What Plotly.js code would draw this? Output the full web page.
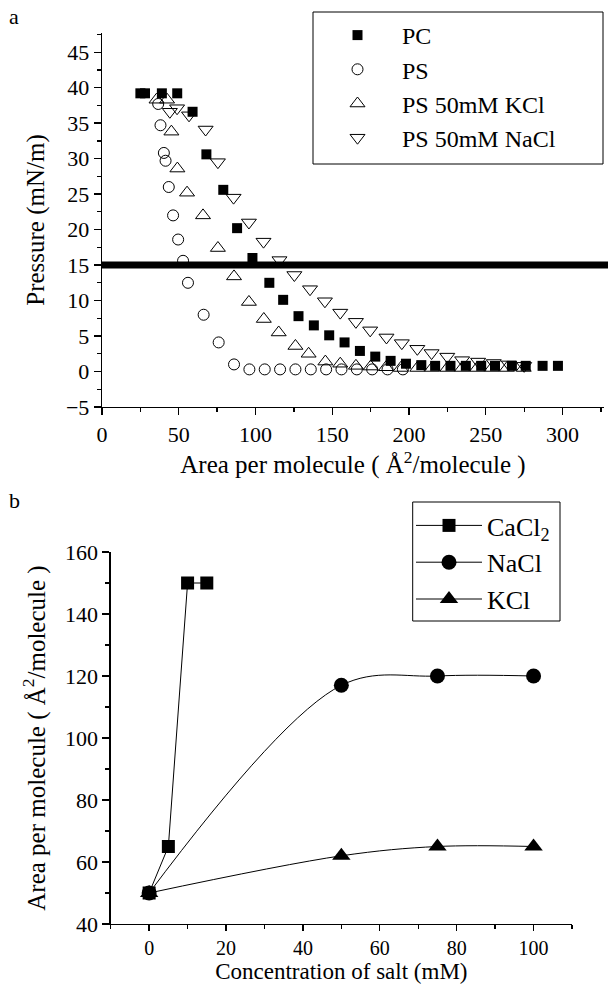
<!DOCTYPE html>
<html>
<head>
<meta charset="utf-8">
<script src="https://cdn.plot.ly/plotly-3.0.1.min.js"></script>
<style>html,body{margin:0;padding:0;background:#fff;}#chart{width:608px;height:987px;}</style>
</head>
<body>
<div id="chart"></div>
<script>
// ---- Panel a data: surface pressure isotherms ----
var pcX = [25, 28, 39, 49, 59, 68, 79, 88, 98, 109, 118, 128, 138, 148, 158, 168, 178, 188, 198, 208, 217, 227, 237, 247, 256, 267, 276, 287, 297];
var pcY = [39.2, 39.2, 39.2, 39.2, 36.6, 30.6, 25.6, 20.2, 16.0, 12.5, 10.1, 7.8, 6.5, 5.1, 4.1, 2.9, 2.1, 1.5, 1.1, 0.9, 0.8, 0.8, 0.8, 0.8, 0.8, 0.8, 0.8, 0.8, 0.8];

var psX = [36.6, 38.1, 40.3, 41.4, 43.5, 46.3, 49.6, 52.8, 56.0, 66.2, 76.0, 86.0, 96, 106, 116, 126, 136, 146, 156, 166, 176, 186, 196];
var psY = [37.7, 34.7, 30.8, 29.7, 26.0, 22.0, 18.6, 15.6, 12.5, 8.0, 4.1, 1.0, 0.3, 0.3, 0.3, 0.3, 0.3, 0.3, 0.3, 0.3, 0.3, 0.3, 0.3];

var kclX = [35.5, 42.4, 45.2, 49.1, 55.4, 65.8, 75.5, 86, 95.7, 105.4, 115.1, 126, 134.6, 145.5, 155.2, 165.4, 175, 185, 194.6, 205.4, 215, 225, 234.6, 244.4, 254, 263.8, 274.7];
var kclY = [38.3, 38.3, 33.8, 28.6, 25.2, 22.0, 17.4, 13.4, 9.8, 7.4, 5.5, 3.6, 2.5, 1.4, 1.1, 0.8, 0.7, 0.6, 0.5, 0.5, 0.5, 0.5, 0.5, 0.5, 0.5, 0.5, 0.5];

var naclX = [44.2, 48.9, 56.7, 67.5, 75.5, 85.7, 95.7, 105.2, 115.6, 125.3, 135.5, 145.2, 155.2, 165.4, 174.7, 185.3, 195.3, 205.4, 214.7, 224.9, 234.6, 245, 255.2, 265, 275];
var naclY = [36.6, 37.1, 36.1, 34.1, 29.5, 24.5, 21.0, 18.3, 15.7, 13.6, 11.6, 9.9, 8.3, 7.0, 5.8, 4.8, 4.0, 3.2, 2.6, 2.1, 1.6, 1.4, 1.2, 1.0, 0.8];

var refPressure = 15;

// ---- Panel b data: area per molecule vs salt concentration ----
var cacl2Conc = [0, 5, 10, 15];
var cacl2Area = [50, 65, 150, 150];
var naclConc = [0, 50, 75, 100];
var naclArea = [50, 117, 120, 120];
var kclConc = [0, 50, 75, 100];
var kclArea = [50, 62, 65, 65];

var FONT = 'Liberation Serif, Times New Roman, serif';
var W = 608, H = 987;
function px(x){ return x / W; }
function py(y){ return 1 - y / H; }

var traces = [
  {x: pcX, y: pcY, name: 'PC', type: 'scatter', mode: 'markers', xaxis: 'x', yaxis: 'y', legend: 'legend',
   marker: {symbol: 'square', size: 10, color: '#000', line: {width: 0}}},
  {x: psX, y: psY, name: 'PS', type: 'scatter', mode: 'markers', xaxis: 'x', yaxis: 'y', legend: 'legend',
   marker: {symbol: 'circle-open', size: 11, color: '#000', line: {width: 1}}},
  {x: kclX, y: kclY, name: 'PS 50mM KCl', type: 'scatter', mode: 'markers', xaxis: 'x', yaxis: 'y', legend: 'legend',
   marker: {symbol: 'triangle-up-open', size: 13, color: '#000', line: {width: 1}}},
  {x: naclX, y: naclY, name: 'PS 50mM NaCl', type: 'scatter', mode: 'markers', xaxis: 'x', yaxis: 'y', legend: 'legend',
   marker: {symbol: 'triangle-down-open', size: 13, color: '#000', line: {width: 1}}},

  {x: cacl2Conc, y: cacl2Area, name: 'CaCl<sub>2</sub>', type: 'scatter', mode: 'lines+markers', xaxis: 'x2', yaxis: 'y2', legend: 'legend2',
   line: {color: '#000', width: 1}, marker: {symbol: 'square', size: 13, color: '#000'}},
  {x: naclConc, y: naclArea, name: 'NaCl', type: 'scatter', mode: 'lines+markers', xaxis: 'x2', yaxis: 'y2', legend: 'legend2',
   line: {color: '#000', width: 1, shape: 'spline', smoothing: 1}, marker: {symbol: 'circle', size: 15, color: '#000'}},
  {x: kclConc, y: kclArea, name: 'KCl', type: 'scatter', mode: 'lines+markers', xaxis: 'x2', yaxis: 'y2', legend: 'legend2',
   line: {color: '#000', width: 1, shape: 'spline', smoothing: 1}, marker: {symbol: 'triangle-up', size: 16, color: '#000'}}
];

var tickFont = {family: FONT, size: 22, color: '#000'};
var titleFont = {family: FONT, size: 25, color: '#000'};
var minorTicks = function(d){ return {dtick: d, ticks: 'outside', ticklen: 4, tickcolor: '#000', tickwidth: 1.3}; };

function axisBase(extra){
  var a = {
    showgrid: false, zeroline: false, showline: true, linecolor: '#000', linewidth: 1.3,
    ticks: 'outside', ticklen: 7, tickwidth: 1.3, tickcolor: '#000',
    tickfont: tickFont, automargin: false
  };
  for (var k in extra) a[k] = extra[k];
  return a;
}

var layout = {
  width: W, height: H,
  margin: {l: 0, r: 0, t: 0, b: 0},
  paper_bgcolor: '#fff', plot_bgcolor: 'rgba(0,0,0,0)',
  font: {family: FONT, color: '#000'},
  xaxis: axisBase({domain: [px(102), px(604)], range: [0, 327], dtick: 50, tick0: 0, anchor: 'y',
    minor: minorTicks(25),
    title: {text: 'Area per molecule ( Å<sup>2</sup>/molecule )', font: titleFont, standoff: 2}}),
  yaxis: axisBase({domain: [py(407), py(33)], range: [-5, 47.7], dtick: 5, tick0: 0, anchor: 'x',
    minor: minorTicks(2.5),
    title: {text: 'Pressure (mN/m)', font: titleFont, standoff: 14}}),
  xaxis2: axisBase({domain: [px(110.7), px(572)], range: [-10, 110], dtick: 20, tick0: 0, anchor: 'y2',
    minor: minorTicks(10), ticklen: 6, tickfont: {family: FONT, size: 20, color: '#000'},
    title: {text: 'Concentration of salt (mM)', font: {family: FONT, size: 23, color: '#000'}, standoff: 3}}),
  yaxis2: axisBase({domain: [py(924), py(552)], range: [40, 160], dtick: 20, tick0: 0, anchor: 'x2',
    minor: minorTicks(10),
    title: {text: 'Area per molecule ( Å<sup>2</sup>/molecule )', font: titleFont, standoff: 12}}),
  showlegend: true,
  legend: {x: px(313), y: py(13), xanchor: 'left', yanchor: 'top', bgcolor: 'rgba(0,0,0,0)',
    borderwidth: 0, font: {family: FONT, size: 24, color: '#000'}, itemwidth: 79},
  legend2: {x: px(411), y: py(502), xanchor: 'left', yanchor: 'top', bgcolor: 'rgba(0,0,0,0)',
    borderwidth: 0, font: {family: FONT, size: 26, color: '#000'}, itemwidth: 66},
  shapes: [
    {type: 'line', xref: 'paper', yref: 'y', x0: px(102), x1: 1, y0: refPressure, y1: refPressure,
     line: {color: '#000', width: 7}},
    {type: 'rect', xref: 'paper', yref: 'paper', x0: px(313), x1: px(603), y0: py(164), y1: py(12),
     line: {color: '#000', width: 1}, fillcolor: '#fff', layer: 'below'},
    {type: 'rect', xref: 'paper', yref: 'paper', x0: px(412.7), x1: px(560), y0: py(621), y1: py(502),
     line: {color: '#000', width: 1}, fillcolor: '#fff', layer: 'below'}
  ],
  annotations: [
    {text: 'a', xref: 'paper', yref: 'paper', x: px(7), y: py(2), xanchor: 'left', yanchor: 'top',
     showarrow: false, font: {family: FONT, size: 22, color: '#000'}},
    {text: 'b', xref: 'paper', yref: 'paper', x: px(7), y: py(486), xanchor: 'left', yanchor: 'top',
     showarrow: false, font: {family: FONT, size: 22, color: '#000'}}
  ]
};

Plotly.newPlot('chart', traces, layout, {staticPlot: true, displayModeBar: false});
</script>
</body>
</html>
